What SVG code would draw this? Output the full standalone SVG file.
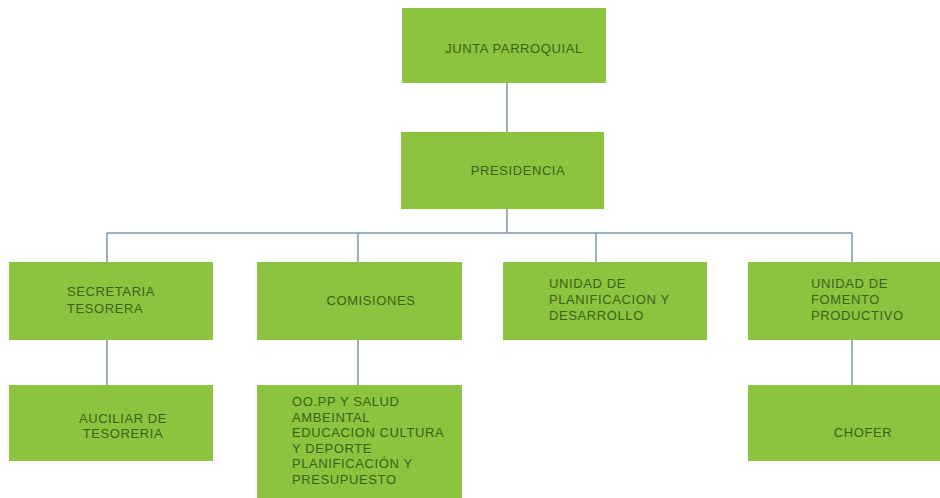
<svg xmlns="http://www.w3.org/2000/svg" width="940" height="498" viewBox="0 0 940 498">
<style>
.box{fill:#8cc43f;}
.t{font-family:"Liberation Sans",Arial,sans-serif;font-size:13px;letter-spacing:0.6px;fill:#3a6318;}
.c{text-anchor:middle;}
.ln{stroke:#7d97a8;stroke-width:1.5;fill:none;}
</style>
<rect width="940" height="498" fill="#ffffff"/>
<g id="connectors">
<path class="ln" d="M507 83V132M507 209V233M107 233H852M107 233V262M358 233V262M596 233V262M852 233V262M107 340V385M358 340V385M852 340V385"/>
</g>
<g id="junta"><rect class="box" x="402" y="8" width="204" height="75"/><text class="t c" x="514" y="53">JUNTA PARROQUIAL</text></g>
<g id="presidencia"><rect class="box" x="401" y="132" width="203" height="77"/><text class="t c" x="518" y="175">PRESIDENCIA</text></g>
<g id="secretaria"><rect class="box" x="9" y="262" width="204" height="78"/><text class="t" x="67" y="296">SECRETARIA</text><text class="t" x="67" y="313">TESORERA</text></g>
<g id="comisiones"><rect class="box" x="257" y="262" width="205" height="78"/><text class="t c" x="371" y="305">COMISIONES</text></g>
<g id="planificacion"><rect class="box" x="503" y="262" width="204" height="78"/><text class="t" x="549" y="288">UNIDAD DE</text><text class="t" x="549" y="304">PLANIFICACION Y</text><text class="t" x="549" y="320">DESARROLLO</text></g>
<g id="fomento"><rect class="box" x="748" y="262" width="204" height="78"/><text class="t" x="811" y="288">UNIDAD DE</text><text class="t" x="811" y="304">FOMENTO</text><text class="t" x="811" y="320">PRODUCTIVO</text></g>
<g id="auxiliar"><rect class="box" x="9" y="385" width="204" height="76"/><text class="t c" x="123" y="423">AUCILIAR DE</text><text class="t c" x="123" y="438">TESORERIA</text></g>
<g id="oopp"><rect class="box" x="257" y="385" width="205" height="120"/><text class="t" x="292" y="406">OO.PP Y SALUD</text><text class="t" x="292" y="422">AMBEINTAL</text><text class="t" x="292" y="437">EDUCACION CULTURA</text><text class="t" x="292" y="453">Y DEPORTE</text><text class="t" x="292" y="468">PLANIFICACIÓN Y</text><text class="t" x="292" y="484">PRESUPUESTO</text></g>
<g id="chofer"><rect class="box" x="748" y="385" width="204" height="76"/><text class="t c" x="863" y="437">CHOFER</text></g>
</svg>
